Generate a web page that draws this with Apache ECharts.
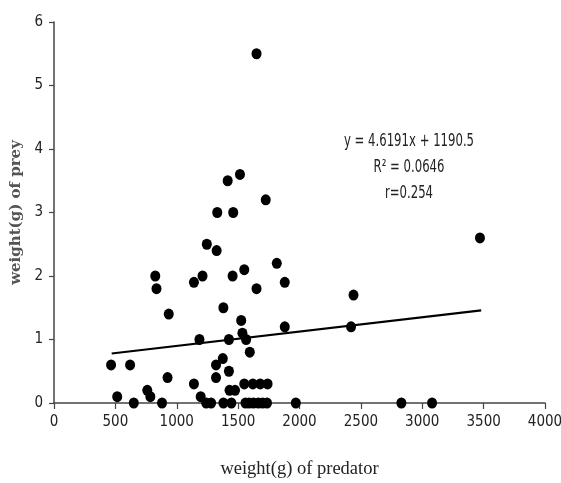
<!DOCTYPE html>
<html>
<head>
<meta charset="utf-8">
<script src="https://cdn.jsdelivr.net/npm/echarts@6/dist/echarts.min.js"></script>
<style>
  html, body { margin: 0; padding: 0; background: #fff; }
  #chart { width: 561px; height: 483px; }
</style>
</head>
<body>
<div id="chart"></div>
<script>
// predator weight (g) and prey weight (g)
var predatorWeight = [
  1650, 1415, 1515, 1725, 1330, 1460, 1245, 1325, 1815, 1880,
  825, 835, 1140, 1210, 1455, 1550, 1650, 3470, 2440, 935,
  1380, 1525, 1535, 1565, 1880, 2420, 1185, 1425, 1595, 465,
  620, 1375, 1320, 1320, 1425, 925, 1140, 760, 785, 515,
  1195, 1430, 1475, 1550, 1620, 1680, 1740, 650, 880, 1240,
  1280, 1380, 1445, 1560, 1590, 1625, 1665, 1700, 1735, 1970,
  2830, 3080
];
var preyWeight = [
  5.5, 3.5, 3.6, 3.2, 3.0, 3.0, 2.5, 2.4, 2.2, 1.9,
  2.0, 1.8, 1.9, 2.0, 2.0, 2.1, 1.8, 2.6, 1.7, 1.4,
  1.5, 1.3, 1.1, 1.0, 1.2, 1.2, 1.0, 1.0, 0.8, 0.6,
  0.6, 0.7, 0.6, 0.4, 0.5, 0.4, 0.3, 0.2, 0.1, 0.1,
  0.1, 0.2, 0.2, 0.3, 0.3, 0.3, 0.3, 0, 0, 0,
  0, 0, 0, 0, 0, 0, 0, 0, 0, 0,
  0, 0
];
// ends of the drawn trend line
var trendX = [470, 3480];
var trendY = [0.78, 1.46];
var eqLines = ['y = 4.6191x + 1190.5', 'R\u00b2 = 0.0646', 'r=0.254'];

var points = predatorWeight.map(function (x, i) { return [x, preyWeight[i]]; });
var trend = trendX.map(function (x, i) { return [x, trendY[i]]; });

var chart = echarts.init(document.getElementById('chart'));
var tickFont = '"DejaVu Sans Condensed", "Liberation Sans Narrow", sans-serif';
var options = {
  backgroundColor: '#fff',
  animation: false,
  grid: { left: 54, right: 16, top: 22, bottom: 80, containLabel: false, outerBoundsMode: 'none' },
  xAxis: {
    type: 'value',
    min: 0, max: 4000, interval: 500,
    name: 'weight(g) of predator',
    nameLocation: 'middle',
    nameGap: 57,
    nameTextStyle: { fontFamily: '"Liberation Serif", serif', fontSize: 18.5, color: '#222' },
    axisLine: { lineStyle: { color: '#444', width: 1.5 } },
    axisTick: { show: true, inside: false, length: 6, lineStyle: { color: '#444', width: 1.2 } },
    axisLabel: {
      fontFamily: tickFont, fontSize: 15, color: '#222', margin: 12,
      formatter: function (v) { return String(v); }
    },
    splitLine: { show: false }
  },
  yAxis: {
    type: 'value',
    min: 0, max: 6, interval: 1,
    name: 'weight(g) of prey',
    nameLocation: 'middle',
    nameGap: 27,
    nameTextStyle: { fontFamily: '"DejaVu Serif", serif', fontSize: 15, fontWeight: 'bold', color: '#555' },
    axisLine: { show: true, lineStyle: { color: '#444', width: 1.5 } },
    axisTick: { show: true, inside: false, length: 5, lineStyle: { color: '#444', width: 1.2 } },
    axisLabel: { fontFamily: tickFont, fontSize: 15, color: '#222', margin: 11 },
    splitLine: { show: false }
  },
  graphic: [
    {
      type: 'text',
      x: 409, y: 128,
      scaleY: 1.35,
      style: {
        text: eqLines.join('\n'),
        font: '13px "DejaVu Sans Condensed", "Liberation Sans Narrow", sans-serif',
        lineHeight: 19.5,
        fill: '#222',
        align: 'center',
        verticalAlign: 'top'
      }
    }
  ],
  series: [
    {
      name: 'trend',
      type: 'line',
      data: trend,
      symbol: 'none',
      lineStyle: { color: '#000', width: 2.2 },
      z: 2
    },
    {
      name: 'prey',
      type: 'scatter',
      data: points,
      symbol: 'circle',
      symbolSize: [10, 11],
      itemStyle: { color: '#000', opacity: 1 },
      z: 3
    }
  ]
};
chart.setOption(options);
</script>
</body>
</html>
